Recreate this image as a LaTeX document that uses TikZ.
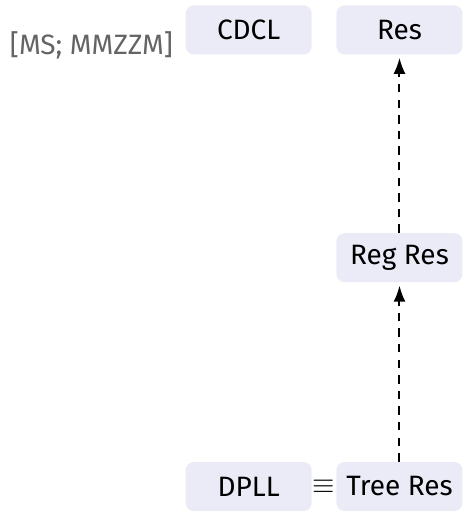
\documentclass[tikz,border=0pt]{standalone}
\usepackage{fontspec}
\setmainfont{Fira Sans}
\usetikzlibrary{arrows.meta, positioning, calc}
\definecolor{boxbg}{RGB}{235,235,247}
\definecolor{citegray}{RGB}{100,100,100}

\begin{document}
\begin{tikzpicture}[x=0.5pt, y=-0.5pt,
    sys/.style={fill=boxbg, rounded corners=4pt, minimum width=63pt, minimum height=24.5pt, inner sep=0pt, font=\fontsize{14}{16}\selectfont},
    sim/.style={draw, dash pattern=on 4.2pt off 3.6pt, line width=1pt, -{Latex[length=8pt,width=6pt]}, shorten >=1.5pt}]
    \useasboundingbox (0,0) rectangle (463,511);
    \node[sys] (TR) at (399.5,486.5) {Tree Res};
    \node[sys, above=89.5pt of TR] (RR) {Reg Res};
    \node[sys, above=89pt of RR] (R) {Res};
    \node[sys, left=12pt of R] (CDCL) {CDCL};
    \node[sys, left=12pt of TR] (DPLL) {DPLL};
    \node[font=\fontsize{14}{16}\selectfont] (eq) at ($(DPLL.east)!0.5!(TR.west)$) {$\equiv$};
    \node[anchor=base east, inner sep=0pt, text=citegray, font=\fontsize{14}{16}\selectfont] (cite) at ($(CDCL.south west)+(-6pt,0pt)$) {[MS; MMZZM]};

    \draw[sim] (TR) -- (RR);
    \draw[sim] (RR) -- (R);
\end{tikzpicture}
\end{document}
